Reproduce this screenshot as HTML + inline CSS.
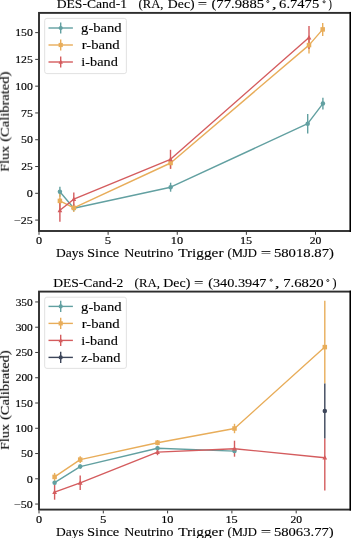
<!DOCTYPE html>
<html><head><meta charset="utf-8"><style>
html,body{margin:0;padding:0;background:#fff;}
svg{display:block;}
text{will-change:transform;}
text{font-family:"Liberation Serif", serif;fill:#000;}
.tk{stroke:#000;stroke-width:0.15px;}
.lg{stroke:#000;stroke-width:0.12px;}
.tt{stroke:#000;stroke-width:0.12px;}
</style></head><body>
<svg width="351" height="538" viewBox="0 0 351 538">
<line x1="59.90" y1="186.80" x2="59.90" y2="196.80" stroke="#62A0A1" stroke-width="1.4"/><line x1="73.80" y1="207.30" x2="73.80" y2="209.30" stroke="#62A0A1" stroke-width="1.4"/><line x1="170.60" y1="182.70" x2="170.60" y2="191.70" stroke="#62A0A1" stroke-width="1.4"/><line x1="307.70" y1="114.00" x2="307.70" y2="133.40" stroke="#62A0A1" stroke-width="1.4"/><line x1="322.90" y1="97.80" x2="322.90" y2="109.40" stroke="#62A0A1" stroke-width="1.4"/>
<line x1="59.90" y1="192.90" x2="59.90" y2="208.90" stroke="#E8AD5A" stroke-width="1.4"/><line x1="73.80" y1="203.80" x2="73.80" y2="212.00" stroke="#E8AD5A" stroke-width="1.4"/><line x1="170.60" y1="157.30" x2="170.60" y2="168.70" stroke="#E8AD5A" stroke-width="1.4"/><line x1="309.00" y1="36.60" x2="309.00" y2="53.60" stroke="#E8AD5A" stroke-width="1.4"/><line x1="322.70" y1="22.90" x2="322.70" y2="35.90" stroke="#E8AD5A" stroke-width="1.4"/>
<line x1="59.90" y1="198.80" x2="59.90" y2="221.80" stroke="#D45C5E" stroke-width="1.4"/><line x1="73.80" y1="192.40" x2="73.80" y2="206.00" stroke="#D45C5E" stroke-width="1.4"/><line x1="170.50" y1="149.80" x2="170.50" y2="168.80" stroke="#D45C5E" stroke-width="1.4"/><line x1="309.00" y1="26.10" x2="309.00" y2="48.90" stroke="#D45C5E" stroke-width="1.4"/>

<polyline points="59.90,191.80 73.80,208.30 170.60,187.20 307.70,123.70 322.90,103.60" fill="none" stroke="#62A0A1" stroke-width="1.4" stroke-linejoin="round"/><circle cx="59.90" cy="191.80" r="2.25" fill="#62A0A1"/><circle cx="73.80" cy="208.30" r="2.25" fill="#62A0A1"/><circle cx="170.60" cy="187.20" r="2.25" fill="#62A0A1"/><circle cx="307.70" cy="123.70" r="2.25" fill="#62A0A1"/><circle cx="322.90" cy="103.60" r="2.25" fill="#62A0A1"/>
<polyline points="59.90,200.90 73.80,207.90 170.60,163.00 309.00,45.10 322.70,29.40" fill="none" stroke="#E8AD5A" stroke-width="1.4" stroke-linejoin="round"/><rect x="57.65" y="198.65" width="4.50" height="4.50" fill="#E8AD5A"/><rect x="71.55" y="205.65" width="4.50" height="4.50" fill="#E8AD5A"/><rect x="168.35" y="160.75" width="4.50" height="4.50" fill="#E8AD5A"/><rect x="306.75" y="42.85" width="4.50" height="4.50" fill="#E8AD5A"/><rect x="320.45" y="27.15" width="4.50" height="4.50" fill="#E8AD5A"/>
<polyline points="59.90,210.30 73.80,199.20 170.50,159.30 309.00,37.50" fill="none" stroke="#D45C5E" stroke-width="1.4" stroke-linejoin="round"/><polygon points="59.90,207.71 57.54,212.21 62.26,212.21" fill="#D45C5E"/><polygon points="73.80,196.61 71.44,201.11 76.16,201.11" fill="#D45C5E"/><polygon points="170.50,156.71 168.14,161.21 172.86,161.21" fill="#D45C5E"/><polygon points="309.00,34.91 306.64,39.41 311.36,39.41" fill="#D45C5E"/>
<rect x="44.7" y="18.4" width="81.70" height="55.20" rx="2.2" fill="#fff" fill-opacity="0.8" stroke="#dedede" stroke-width="0.9"/>
<line x1="48.5" y1="28.0" x2="72.9" y2="28.0" stroke="#62A0A1" stroke-width="1.4"/>
<line x1="60.7" y1="22.40" x2="60.7" y2="33.60" stroke="#62A0A1" stroke-width="1.4"/>
<circle cx="60.70" cy="28.00" r="2.10" fill="#62A0A1"/>
<text x="81.11" y="32.20" font-size="12.4" textLength="40.55" lengthAdjust="spacingAndGlyphs" class="lg">g-band</text>
<line x1="48.5" y1="45.0" x2="72.9" y2="45.0" stroke="#E8AD5A" stroke-width="1.4"/>
<line x1="60.7" y1="39.40" x2="60.7" y2="50.60" stroke="#E8AD5A" stroke-width="1.4"/>
<rect x="58.60" y="42.90" width="4.20" height="4.20" fill="#E8AD5A"/>
<text x="81.66" y="49.20" font-size="12.4" textLength="38.07" lengthAdjust="spacingAndGlyphs" class="lg">r-band</text>
<line x1="48.5" y1="62.0" x2="72.9" y2="62.0" stroke="#D45C5E" stroke-width="1.4"/>
<line x1="60.7" y1="56.40" x2="60.7" y2="67.60" stroke="#D45C5E" stroke-width="1.4"/>
<polygon points="60.70,59.59 58.50,63.78 62.91,63.78" fill="#D45C5E"/>
<text x="81.35" y="66.20" font-size="12.4" textLength="36.45" lengthAdjust="spacingAndGlyphs" class="lg">i-band</text>
<rect x="39.0" y="12.9" width="311.60" height="218.10" fill="none" stroke="#2e2e2e" stroke-width="1.9"/>
<line x1="350.6" y1="11.95" x2="350.6" y2="231.95" stroke="#000" stroke-width="2"/>
<line x1="39.00" y1="232.0" x2="39.00" y2="234.8" stroke="#222" stroke-width="0.9"/>
<text x="35.95" y="244.20" font-size="9.8" textLength="6.10" lengthAdjust="spacingAndGlyphs" class="tk">0</text>
<line x1="108.12" y1="232.0" x2="108.12" y2="234.8" stroke="#222" stroke-width="0.9"/>
<text x="104.79" y="244.20" font-size="9.8" textLength="6.41" lengthAdjust="spacingAndGlyphs" class="tk">5</text>
<line x1="177.25" y1="232.0" x2="177.25" y2="234.8" stroke="#222" stroke-width="0.9"/>
<text x="170.80" y="244.20" font-size="9.8" textLength="12.27" lengthAdjust="spacingAndGlyphs" class="tk">10</text>
<line x1="246.38" y1="232.0" x2="246.38" y2="234.8" stroke="#222" stroke-width="0.9"/>
<text x="239.93" y="244.20" font-size="9.8" textLength="12.27" lengthAdjust="spacingAndGlyphs" class="tk">15</text>
<line x1="315.50" y1="232.0" x2="315.50" y2="234.8" stroke="#222" stroke-width="0.9"/>
<text x="309.71" y="244.20" font-size="9.8" textLength="11.59" lengthAdjust="spacingAndGlyphs" class="tk">20</text>
<line x1="38.0" y1="32.61" x2="35.2" y2="32.61" stroke="#222" stroke-width="0.9"/>
<text x="15.16" y="36.31" font-size="9.8" textLength="17.67" lengthAdjust="spacingAndGlyphs" class="tk">150</text>
<line x1="38.0" y1="59.39" x2="35.2" y2="59.39" stroke="#222" stroke-width="0.9"/>
<text x="15.16" y="63.09" font-size="9.8" textLength="17.67" lengthAdjust="spacingAndGlyphs" class="tk">125</text>
<line x1="38.0" y1="86.17" x2="35.2" y2="86.17" stroke="#222" stroke-width="0.9"/>
<text x="15.16" y="89.87" font-size="9.8" textLength="17.67" lengthAdjust="spacingAndGlyphs" class="tk">100</text>
<line x1="38.0" y1="112.95" x2="35.2" y2="112.95" stroke="#222" stroke-width="0.9"/>
<text x="20.98" y="116.65" font-size="9.8" textLength="11.85" lengthAdjust="spacingAndGlyphs" class="tk">75</text>
<line x1="38.0" y1="139.74" x2="35.2" y2="139.74" stroke="#222" stroke-width="0.9"/>
<text x="20.98" y="143.44" font-size="9.8" textLength="11.85" lengthAdjust="spacingAndGlyphs" class="tk">50</text>
<line x1="38.0" y1="166.52" x2="35.2" y2="166.52" stroke="#222" stroke-width="0.9"/>
<text x="21.24" y="170.22" font-size="9.8" textLength="11.59" lengthAdjust="spacingAndGlyphs" class="tk">25</text>
<line x1="38.0" y1="193.30" x2="35.2" y2="193.30" stroke="#222" stroke-width="0.9"/>
<text x="26.75" y="197.00" font-size="9.8" textLength="6.10" lengthAdjust="spacingAndGlyphs" class="tk">0</text>
<line x1="38.0" y1="220.08" x2="35.2" y2="220.08" stroke="#222" stroke-width="0.9"/>
<text x="14.10" y="223.78" font-size="9.8" textLength="18.78" lengthAdjust="spacingAndGlyphs" class="tk">−25</text>
<text x="56.69" y="8.20" font-size="13.3" textLength="70.34" lengthAdjust="spacingAndGlyphs" class="tt">DES-Cand-1</text>
<text x="138.53" y="8.20" font-size="13.3" textLength="24.96" lengthAdjust="spacingAndGlyphs" class="tt">(RA,</text>
<text x="167.89" y="8.20" font-size="13.3" textLength="26.78" lengthAdjust="spacingAndGlyphs" class="tt">Dec)</text>
<text x="197.83" y="8.20" font-size="13.3" textLength="9.32" lengthAdjust="spacingAndGlyphs" class="tt">=</text>
<text x="211.44" y="8.20" font-size="13.3" textLength="52.68" lengthAdjust="spacingAndGlyphs" class="tt">(77.9885</text>
<text x="271.75" y="8.20" font-size="13.3" textLength="4.99" lengthAdjust="spacingAndGlyphs" class="tt">,</text>
<text x="279.14" y="8.20" font-size="13.3" textLength="40.08" lengthAdjust="spacingAndGlyphs" class="tt">6.7475</text>
<text x="328.59" y="8.20" font-size="13.3" textLength="3.39" lengthAdjust="spacingAndGlyphs" class="tt">)</text>
<circle cx="267.8" cy="1.5" r="1.05" fill="none" stroke="#111" stroke-width="0.85"/>
<circle cx="324.1" cy="1.8" r="1.05" fill="none" stroke="#111" stroke-width="0.85"/>
<text x="55.99" y="257.00" font-size="13.3" textLength="27.75" lengthAdjust="spacingAndGlyphs" class="tt">Days</text>
<text x="87.02" y="257.00" font-size="13.3" textLength="32.27" lengthAdjust="spacingAndGlyphs" class="tt">Since</text>
<text x="124.18" y="257.00" font-size="13.3" textLength="49.21" lengthAdjust="spacingAndGlyphs" class="tt">Neutrino</text>
<text x="178.17" y="257.00" font-size="13.3" textLength="45.36" lengthAdjust="spacingAndGlyphs" class="tt">Trigger</text>
<text x="227.43" y="257.00" font-size="13.3" textLength="29.58" lengthAdjust="spacingAndGlyphs" class="tt">(MJD</text>
<text x="260.83" y="257.00" font-size="13.3" textLength="10.41" lengthAdjust="spacingAndGlyphs" class="tt">=</text>
<text x="273.92" y="257.00" font-size="13.3" textLength="60.05" lengthAdjust="spacingAndGlyphs" class="tt">58018.87)</text>
<text x="0" y="0" font-size="13.3" textLength="25.62" lengthAdjust="spacingAndGlyphs" class="tt" transform="translate(8.80,171.62) rotate(-90)">Flux</text>
<text x="0" y="0" font-size="13.3" textLength="69.96" lengthAdjust="spacingAndGlyphs" class="tt" transform="translate(8.80,141.65) rotate(-90)">(Calibrated)</text>
<line x1="54.60" y1="480.70" x2="54.60" y2="484.70" stroke="#62A0A1" stroke-width="1.4"/><line x1="80.20" y1="464.40" x2="80.20" y2="468.80" stroke="#62A0A1" stroke-width="1.4"/><line x1="157.50" y1="446.20" x2="157.50" y2="450.20" stroke="#62A0A1" stroke-width="1.4"/><line x1="234.50" y1="449.10" x2="234.50" y2="453.10" stroke="#62A0A1" stroke-width="1.4"/>
<line x1="54.60" y1="472.90" x2="54.60" y2="480.90" stroke="#E8AD5A" stroke-width="1.4"/><line x1="80.20" y1="456.20" x2="80.20" y2="463.00" stroke="#E8AD5A" stroke-width="1.4"/><line x1="157.50" y1="440.00" x2="157.50" y2="445.40" stroke="#E8AD5A" stroke-width="1.4"/><line x1="234.50" y1="423.80" x2="234.50" y2="433.20" stroke="#E8AD5A" stroke-width="1.4"/><line x1="324.80" y1="300.70" x2="324.80" y2="383.60" stroke="#E8AD5A" stroke-width="1.4"/>
<line x1="54.60" y1="484.70" x2="54.60" y2="499.70" stroke="#D45C5E" stroke-width="1.4"/><line x1="80.20" y1="475.60" x2="80.20" y2="490.00" stroke="#D45C5E" stroke-width="1.4"/><line x1="157.50" y1="449.00" x2="157.50" y2="455.20" stroke="#D45C5E" stroke-width="1.4"/><line x1="234.50" y1="440.70" x2="234.50" y2="456.70" stroke="#D45C5E" stroke-width="1.4"/><line x1="324.80" y1="438.60" x2="324.80" y2="490.60" stroke="#D45C5E" stroke-width="1.4"/>
<line x1="324.80" y1="383.60" x2="324.80" y2="438.60" stroke="#3D465A" stroke-width="1.4"/>
<polyline points="54.60,482.70 80.20,466.60 157.50,448.20 234.50,451.10" fill="none" stroke="#62A0A1" stroke-width="1.4" stroke-linejoin="round"/><circle cx="54.60" cy="482.70" r="2.25" fill="#62A0A1"/><circle cx="80.20" cy="466.60" r="2.25" fill="#62A0A1"/><circle cx="157.50" cy="448.20" r="2.25" fill="#62A0A1"/><circle cx="234.50" cy="451.10" r="2.25" fill="#62A0A1"/>
<polyline points="54.60,476.90 80.20,459.60 157.50,442.70 234.50,428.50 324.80,347.10" fill="none" stroke="#E8AD5A" stroke-width="1.4" stroke-linejoin="round"/><rect x="52.35" y="474.65" width="4.50" height="4.50" fill="#E8AD5A"/><rect x="77.95" y="457.35" width="4.50" height="4.50" fill="#E8AD5A"/><rect x="155.25" y="440.45" width="4.50" height="4.50" fill="#E8AD5A"/><rect x="232.25" y="426.25" width="4.50" height="4.50" fill="#E8AD5A"/><rect x="322.55" y="344.85" width="4.50" height="4.50" fill="#E8AD5A"/>
<polyline points="54.60,492.20 80.20,482.80 157.50,452.10 234.50,448.70 324.80,457.70" fill="none" stroke="#D45C5E" stroke-width="1.4" stroke-linejoin="round"/><polygon points="54.60,489.61 52.24,494.11 56.96,494.11" fill="#D45C5E"/><polygon points="80.20,480.21 77.84,484.71 82.56,484.71" fill="#D45C5E"/><polygon points="157.50,449.51 155.14,454.01 159.86,454.01" fill="#D45C5E"/><polygon points="234.50,446.11 232.14,450.61 236.86,450.61" fill="#D45C5E"/><polygon points="324.80,455.11 322.44,459.61 327.16,459.61" fill="#D45C5E"/>
<polyline points="324.80,411.10" fill="none" stroke="#3D465A" stroke-width="1.4" stroke-linejoin="round"/><circle cx="324.80" cy="411.10" r="2.25" fill="#3D465A"/>
<rect x="44.7" y="297.2" width="81.70" height="71.20" rx="2.2" fill="#fff" fill-opacity="0.8" stroke="#dedede" stroke-width="0.9"/>
<line x1="48.5" y1="306.4" x2="72.9" y2="306.4" stroke="#62A0A1" stroke-width="1.4"/>
<line x1="60.7" y1="300.80" x2="60.7" y2="312.00" stroke="#62A0A1" stroke-width="1.4"/>
<circle cx="60.70" cy="306.40" r="2.10" fill="#62A0A1"/>
<text x="81.11" y="310.60" font-size="12.4" textLength="40.55" lengthAdjust="spacingAndGlyphs" class="lg">g-band</text>
<line x1="48.5" y1="323.4" x2="72.9" y2="323.4" stroke="#E8AD5A" stroke-width="1.4"/>
<line x1="60.7" y1="317.80" x2="60.7" y2="329.00" stroke="#E8AD5A" stroke-width="1.4"/>
<rect x="58.60" y="321.30" width="4.20" height="4.20" fill="#E8AD5A"/>
<text x="81.66" y="327.60" font-size="12.4" textLength="38.07" lengthAdjust="spacingAndGlyphs" class="lg">r-band</text>
<line x1="48.5" y1="340.4" x2="72.9" y2="340.4" stroke="#D45C5E" stroke-width="1.4"/>
<line x1="60.7" y1="334.80" x2="60.7" y2="346.00" stroke="#D45C5E" stroke-width="1.4"/>
<polygon points="60.70,337.98 58.50,342.19 62.91,342.19" fill="#D45C5E"/>
<text x="81.35" y="344.60" font-size="12.4" textLength="36.45" lengthAdjust="spacingAndGlyphs" class="lg">i-band</text>
<line x1="48.5" y1="357.4" x2="72.9" y2="357.4" stroke="#3D465A" stroke-width="1.4"/>
<line x1="60.7" y1="351.80" x2="60.7" y2="363.00" stroke="#3D465A" stroke-width="1.4"/>
<circle cx="60.70" cy="357.40" r="2.10" fill="#3D465A"/>
<text x="81.35" y="361.60" font-size="12.4" textLength="39.11" lengthAdjust="spacingAndGlyphs" class="lg">z-band</text>
<rect x="39.0" y="291.6" width="311.60" height="218.00" fill="none" stroke="#2e2e2e" stroke-width="1.9"/>
<line x1="350.6" y1="290.65" x2="350.6" y2="510.55" stroke="#000" stroke-width="2"/>
<line x1="39.00" y1="510.6" x2="39.00" y2="513.4" stroke="#222" stroke-width="0.9"/>
<text x="35.95" y="522.60" font-size="9.8" textLength="6.10" lengthAdjust="spacingAndGlyphs" class="tk">0</text>
<line x1="103.30" y1="510.6" x2="103.30" y2="513.4" stroke="#222" stroke-width="0.9"/>
<text x="99.97" y="522.60" font-size="9.8" textLength="6.41" lengthAdjust="spacingAndGlyphs" class="tk">5</text>
<line x1="167.60" y1="510.6" x2="167.60" y2="513.4" stroke="#222" stroke-width="0.9"/>
<text x="161.15" y="522.60" font-size="9.8" textLength="12.27" lengthAdjust="spacingAndGlyphs" class="tk">10</text>
<line x1="231.90" y1="510.6" x2="231.90" y2="513.4" stroke="#222" stroke-width="0.9"/>
<text x="225.45" y="522.60" font-size="9.8" textLength="12.27" lengthAdjust="spacingAndGlyphs" class="tk">15</text>
<line x1="296.20" y1="510.6" x2="296.20" y2="513.4" stroke="#222" stroke-width="0.9"/>
<text x="290.41" y="522.60" font-size="9.8" textLength="11.59" lengthAdjust="spacingAndGlyphs" class="tk">20</text>
<line x1="38.0" y1="301.95" x2="35.2" y2="301.95" stroke="#222" stroke-width="0.9"/>
<text x="15.66" y="305.65" font-size="9.8" textLength="17.16" lengthAdjust="spacingAndGlyphs" class="tk">350</text>
<line x1="38.0" y1="327.21" x2="35.2" y2="327.21" stroke="#222" stroke-width="0.9"/>
<text x="15.66" y="330.91" font-size="9.8" textLength="17.16" lengthAdjust="spacingAndGlyphs" class="tk">300</text>
<line x1="38.0" y1="352.48" x2="35.2" y2="352.48" stroke="#222" stroke-width="0.9"/>
<text x="15.78" y="356.18" font-size="9.8" textLength="17.04" lengthAdjust="spacingAndGlyphs" class="tk">250</text>
<line x1="38.0" y1="377.74" x2="35.2" y2="377.74" stroke="#222" stroke-width="0.9"/>
<text x="15.78" y="381.44" font-size="9.8" textLength="17.04" lengthAdjust="spacingAndGlyphs" class="tk">200</text>
<line x1="38.0" y1="403.00" x2="35.2" y2="403.00" stroke="#222" stroke-width="0.9"/>
<text x="15.16" y="406.70" font-size="9.8" textLength="17.67" lengthAdjust="spacingAndGlyphs" class="tk">150</text>
<line x1="38.0" y1="428.27" x2="35.2" y2="428.27" stroke="#222" stroke-width="0.9"/>
<text x="15.16" y="431.97" font-size="9.8" textLength="17.67" lengthAdjust="spacingAndGlyphs" class="tk">100</text>
<line x1="38.0" y1="453.54" x2="35.2" y2="453.54" stroke="#222" stroke-width="0.9"/>
<text x="20.98" y="457.24" font-size="9.8" textLength="11.85" lengthAdjust="spacingAndGlyphs" class="tk">50</text>
<line x1="38.0" y1="478.80" x2="35.2" y2="478.80" stroke="#222" stroke-width="0.9"/>
<text x="26.75" y="482.50" font-size="9.8" textLength="6.10" lengthAdjust="spacingAndGlyphs" class="tk">0</text>
<line x1="38.0" y1="504.06" x2="35.2" y2="504.06" stroke="#222" stroke-width="0.9"/>
<text x="14.10" y="507.76" font-size="9.8" textLength="18.78" lengthAdjust="spacingAndGlyphs" class="tk">−50</text>
<text x="53.19" y="287.10" font-size="13.3" textLength="70.13" lengthAdjust="spacingAndGlyphs" class="tt">DES-Cand-2</text>
<text x="134.62" y="287.10" font-size="13.3" textLength="25.28" lengthAdjust="spacingAndGlyphs" class="tt">(RA,</text>
<text x="163.28" y="287.10" font-size="13.3" textLength="27.09" lengthAdjust="spacingAndGlyphs" class="tt">Dec)</text>
<text x="194.12" y="287.10" font-size="13.3" textLength="9.44" lengthAdjust="spacingAndGlyphs" class="tt">=</text>
<text x="208.26" y="287.10" font-size="13.3" textLength="58.18" lengthAdjust="spacingAndGlyphs" class="tt">(340.3947</text>
<text x="274.88" y="287.10" font-size="13.3" textLength="4.82" lengthAdjust="spacingAndGlyphs" class="tt">,</text>
<text x="283.20" y="287.10" font-size="13.3" textLength="40.52" lengthAdjust="spacingAndGlyphs" class="tt">7.6820</text>
<text x="332.54" y="287.10" font-size="13.3" textLength="4.04" lengthAdjust="spacingAndGlyphs" class="tt">)</text>
<circle cx="271.2" cy="280.2" r="1.05" fill="none" stroke="#111" stroke-width="0.85"/>
<circle cx="327.8" cy="280.5" r="1.05" fill="none" stroke="#111" stroke-width="0.85"/>
<text x="55.99" y="535.50" font-size="13.3" textLength="27.75" lengthAdjust="spacingAndGlyphs" class="tt">Days</text>
<text x="87.02" y="535.50" font-size="13.3" textLength="32.27" lengthAdjust="spacingAndGlyphs" class="tt">Since</text>
<text x="124.18" y="535.50" font-size="13.3" textLength="49.21" lengthAdjust="spacingAndGlyphs" class="tt">Neutrino</text>
<text x="178.17" y="535.50" font-size="13.3" textLength="45.36" lengthAdjust="spacingAndGlyphs" class="tt">Trigger</text>
<text x="227.43" y="535.50" font-size="13.3" textLength="29.58" lengthAdjust="spacingAndGlyphs" class="tt">(MJD</text>
<text x="260.83" y="535.50" font-size="13.3" textLength="10.41" lengthAdjust="spacingAndGlyphs" class="tt">=</text>
<text x="273.92" y="535.50" font-size="13.3" textLength="59.75" lengthAdjust="spacingAndGlyphs" class="tt">58063.77)</text>
<text x="0" y="0" font-size="13.3" textLength="25.62" lengthAdjust="spacingAndGlyphs" class="tt" transform="translate(8.90,449.82) rotate(-90)">Flux</text>
<text x="0" y="0" font-size="13.3" textLength="69.55" lengthAdjust="spacingAndGlyphs" class="tt" transform="translate(8.90,419.85) rotate(-90)">(Calibrated)</text>
</svg>
</body></html>
